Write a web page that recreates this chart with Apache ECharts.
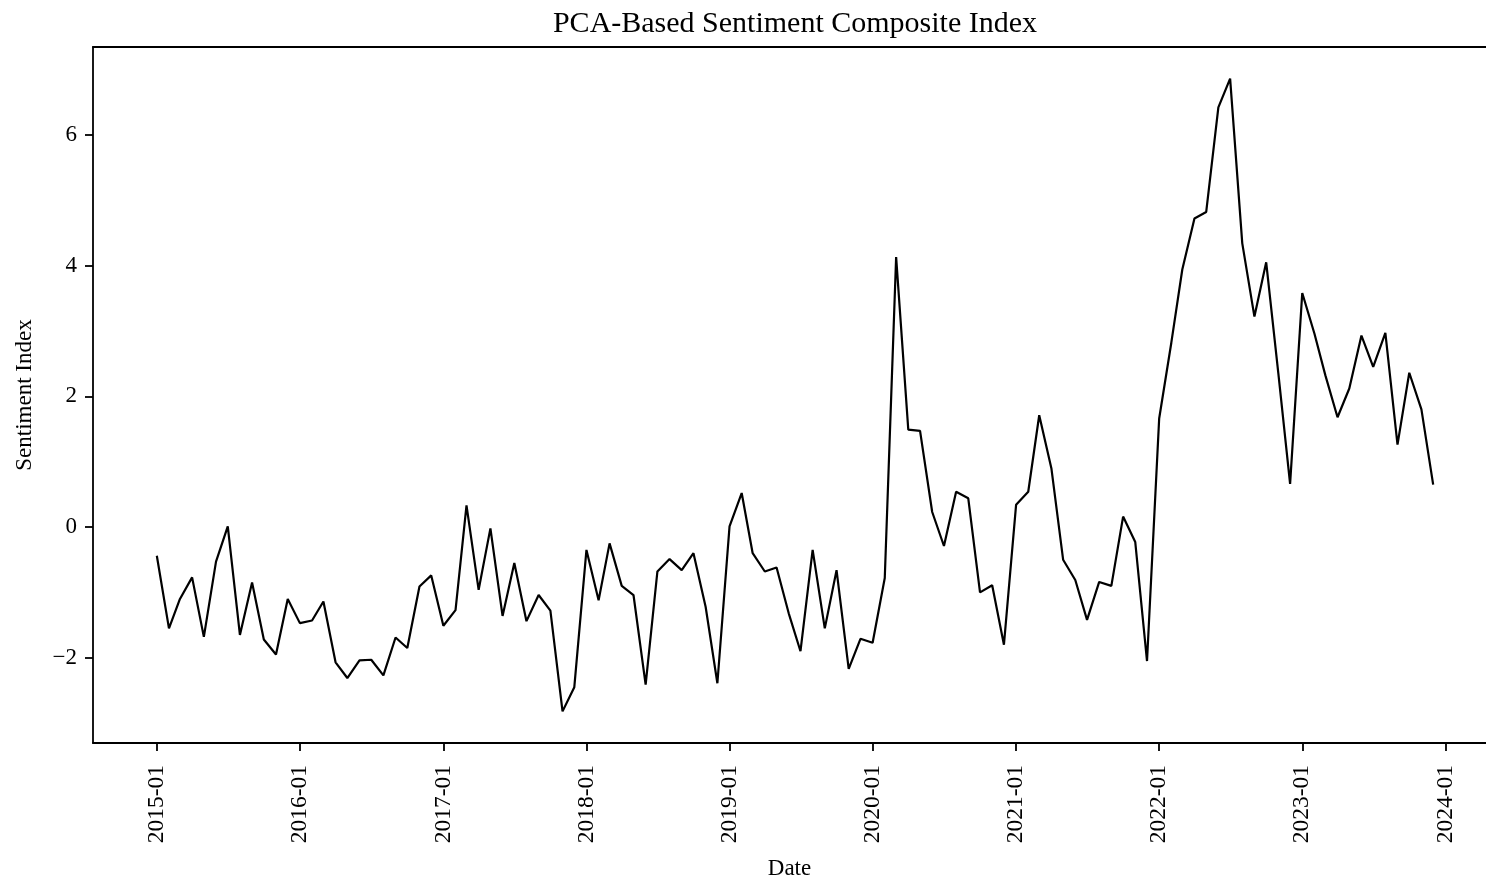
<!DOCTYPE html>
<html>
<head>
<meta charset="utf-8">
<title>PCA-Based Sentiment Composite Index</title>
<script src="https://cdn.jsdelivr.net/npm/echarts@6/dist/echarts.min.js"></script>
<style>
  html, body { margin: 0; padding: 0; background: #fff; }
  #chart { width: 1486px; height: 880px; }
</style>
</head>
<body>
<div id="chart"></div>
<script>
// Monthly composite sentiment index, January 2015 through December 2023
const startYear = 2015;
const startMonth = 0; // January

const sentiment2015 = [-0.44, -1.55, -1.10, -0.77, -1.68, -0.53, 0.01, -1.65, -0.85, -1.72, -1.95, -1.10];
const sentiment2016 = [-1.47, -1.43, -1.14, -2.07, -2.31, -2.04, -2.03, -2.27, -1.69, -1.85, -0.91, -0.74];
const sentiment2017 = [-1.51, -1.27, 0.33, -0.96, -0.02, -1.36, -0.55, -1.44, -1.04, -1.28, -2.82, -2.45];
const sentiment2018 = [-0.35, -1.12, -0.25, -0.90, -1.04, -2.41, -0.68, -0.49, -0.66, -0.40, -1.22, -2.39];
const sentiment2019 = [0.01, 0.52, -0.40, -0.68, -0.62, -1.32, -1.90, -0.35, -1.55, -0.66, -2.17, -1.71];
const sentiment2020 = [-1.77, -0.78, 4.13, 1.49, 1.47, 0.23, -0.29, 0.54, 0.44, -1.00, -0.89, -1.80];
const sentiment2021 = [0.34, 0.54, 1.71, 0.90, -0.50, -0.81, -1.42, -0.84, -0.90, 0.16, -0.23, -2.05];
const sentiment2022 = [1.66, 2.82, 3.94, 4.72, 4.82, 6.42, 6.86, 4.34, 3.22, 4.05, 2.35, 0.66];
const sentiment2023 = [3.58, 2.96, 2.32, 1.68, 2.12, 2.93, 2.45, 2.97, 1.26, 2.36, 1.80, 0.65];

const yTickValues = [-2, 0, 2, 4, 6];
const xTickYears = [2015, 2016, 2017, 2018, 2019, 2020, 2021, 2022, 2023, 2024];

const sentiment = [].concat(
  sentiment2015, sentiment2016, sentiment2017, sentiment2018, sentiment2019,
  sentiment2020, sentiment2021, sentiment2022, sentiment2023
);

// One timestamp per month (first day of the month, UTC)
const dates = sentiment.map((_, i) => Date.UTC(startYear, startMonth + i, 1));
const seriesData = sentiment.map((v, i) => [dates[i], v]);

// 5% padding around the data on both axes
const tMin = dates[0], tMax = dates[dates.length - 1];
const tPad = (tMax - tMin) * 0.05;
const vMin = Math.min.apply(null, sentiment), vMax = Math.max.apply(null, sentiment);
const vPad = (vMax - vMin) * 0.05;

// The plot frame runs past the right edge of the page: the full padded
// range would span PLOT_FULL_W pixels, of which PLOT_VISIBLE_W are on screen.
const PLOT_LEFT = 93;
const PLOT_FULL_W = 1404;
const PLOT_VISIBLE_W = 1486 - PLOT_LEFT;
const xLo = tMin - tPad;
const xHiFull = tMax + tPad;
const xHiVisible = xLo + (xHiFull - xLo) * PLOT_VISIBLE_W / PLOT_FULL_W;

const xTickValues = xTickYears.map(y => Date.UTC(y, 0, 1));

const FONT = "'Liberation Serif', 'Times New Roman', 'DejaVu Serif', serif";
const INK = '#000';
const SPINE_W = 1.8;

function pad2(n) { return (n < 10 ? '0' : '') + n; }

const chart = echarts.init(document.getElementById('chart'), null, { renderer: 'canvas' });

chart.setOption({
  backgroundColor: '#fff',
  animation: false,
  useUTC: true,
  title: {
    text: 'PCA-Based Sentiment Composite Index',
    left: 790,
    textAlign: 'center',
    top: 4,
    textStyle: { fontFamily: FONT, fontSize: 30, fontWeight: 'normal', color: INK }
  },
  grid: {
    left: PLOT_LEFT,
    top: 47,
    width: PLOT_VISIBLE_W,
    height: 696,
    show: false,
    containLabel: false,
    outerBoundsMode: 'none'
  },
  xAxis: [{
    type: 'value',
    position: 'bottom',
    min: xLo,
    max: xHiVisible,
    name: 'Date',
    nameLocation: 'middle',
    nameGap: 114,
    nameTextStyle: { fontFamily: FONT, fontSize: 23, color: INK },
    axisLine: { show: true, onZero: false, lineStyle: { color: INK, width: SPINE_W } },
    axisTick: { show: true, length: 8, lineStyle: { color: INK, width: SPINE_W }, customValues: xTickValues },
    axisLabel: {
      customValues: xTickValues,
      rotate: 90,
      margin: 22,
      fontFamily: FONT,
      fontSize: 23.5,
      color: INK,
      formatter: function (v) {
        const d = new Date(v);
        return d.getUTCFullYear() + '-' + pad2(d.getUTCMonth() + 1);
      }
    },
    splitLine: { show: false }
  }, {
    // top spine of the frame
    type: 'value',
    position: 'top',
    min: xLo,
    max: xHiVisible,
    axisLine: { show: true, onZero: false, lineStyle: { color: INK, width: SPINE_W } },
    axisTick: { show: false },
    axisLabel: { show: false },
    splitLine: { show: false }
  }],
  yAxis: {
    type: 'value',
    min: vMin - vPad,
    max: vMax + vPad,
    name: 'Sentiment Index',
    nameLocation: 'middle',
    nameGap: 57,
    nameTextStyle: { fontFamily: FONT, fontSize: 23, color: INK },
    axisLine: { show: true, onZero: false, lineStyle: { color: INK, width: SPINE_W } },
    axisTick: { show: true, length: 8, lineStyle: { color: INK, width: SPINE_W }, customValues: yTickValues },
    axisLabel: {
      customValues: yTickValues,
      margin: 16,
      fontFamily: FONT,
      fontSize: 23,
      color: INK,
      formatter: function (v) { return String(v).replace('-', '\u2212'); }
    },
    splitLine: { show: false }
  },
  series: [{
    name: 'Sentiment Index',
    type: 'line',
    xAxisIndex: 0,
    data: seriesData,
    showSymbol: false,
    symbol: 'none',
    lineStyle: { color: INK, width: 2.2 },
    clip: true
  }]
});
</script>
</body>
</html>
